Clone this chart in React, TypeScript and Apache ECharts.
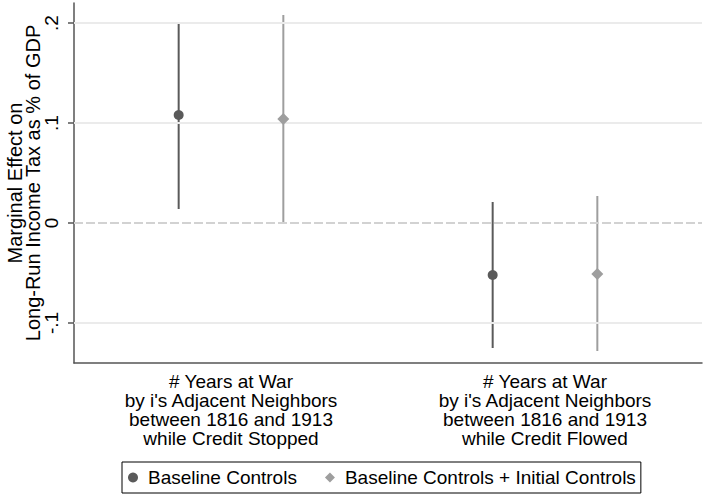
import React, { useEffect, useRef } from "react";
import * as echarts from "echarts";

// Regressor groups shown on the x axis
const categories = [
  "# Years at War\nby i's Adjacent Neighbors\nbetween 1816 and 1913\nwhile Credit Stopped",
  "# Years at War\nby i's Adjacent Neighbors\nbetween 1816 and 1913\nwhile Credit Flowed",
];

// Positions of the estimates on the underlying numeric axis (0..6)
const baselinePos = [1, 4];
const initialPos = [2, 5];

// Point estimates and 95% confidence bounds
const baselineEst = [0.108, -0.052];
const baselineLo = [0.014, -0.125];
const baselineHi = [0.201, 0.021];

const initialEst = [0.104, -0.051];
const initialLo = [0.0, -0.128];
const initialHi = [0.208, 0.027];

const yTicks = [-0.1, 0, 0.1, 0.2];
const seriesNames = ["Baseline Controls", "Baseline Controls + Initial Controls"];

const FONT = "'Liberation Sans', Arial, Helvetica, sans-serif";
const DARK = "#5a5a5a";
const LIGHT = "#9e9e9e";
const AXIS = "#555555";

function fmtTick(v: number): string {
  if (Math.abs(v) < 1e-9) return "0";
  const s = String(Math.round(v * 10) / 10);
  return s.replace("0.", ".");
}

function errorBars(pos: number[], lo: number[], hi: number[], color: string) {
  return {
    type: "custom",
    xAxisIndex: 1,
    yAxisIndex: 0,
    z: 3,
    silent: true,
    data: pos.map((p, i) => [p, lo[i], hi[i]]),
    renderItem: (_params: any, api: any) => {
      const a = api.coord([api.value(0), api.value(1)]);
      const b = api.coord([api.value(0), api.value(2)]);
      return {
        type: "line",
        shape: { x1: a[0], y1: a[1], x2: b[0], y2: b[1] },
        style: { stroke: color, lineWidth: 2 },
      };
    },
  };
}

export default function App() {
  const ref = useRef<HTMLDivElement>(null);

  useEffect(() => {
    if (!ref.current) return;
    const chart = echarts.init(ref.current, null, { renderer: "svg" });

    const gridLines = yTicks.map((t) =>
      t === 0
        ? { yAxis: t, lineStyle: { color: "#d2d2d2", width: 2, type: [9, 3] } }
        : { yAxis: t, lineStyle: { color: "#ebebeb", width: 2, type: "solid" } }
    );

    chart.setOption({
      animation: false,
      backgroundColor: "#ffffff",
      textStyle: { fontFamily: FONT },
      grid: {
        left: 74,
        right: 1,
        top: 3,
        bottom: 134,
        containLabel: false,
        outerBoundsMode: "none",
      },
      xAxis: [
        {
          type: "category",
          data: categories,
          boundaryGap: true,
          axisLine: { onZero: false, lineStyle: { color: AXIS, width: 1.5 } },
          axisTick: { alignWithLabel: true, length: 5, lineStyle: { color: AXIS, width: 1.5 } },
          axisLabel: {
            color: "#000000",
            fontSize: 19,
            lineHeight: 19,
            margin: 9,
            fontFamily: FONT,
            interval: 0,
          },
          splitLine: { show: false },
        },
        {
          type: "value",
          min: 0,
          max: 6,
          show: false,
          axisLine: { onZero: false },
        },
      ],
      yAxis: {
        type: "value",
        min: -0.14,
        max: 0.22,
        name: "Marginal Effect on\nLong-Run Income Tax as % of GDP",
        nameLocation: "middle",
        nameRotate: 90,
        nameGap: 32,
        nameMoveOverlap: false,
        nameTextStyle: { color: "#000000", fontSize: 20, lineHeight: 18, fontFamily: FONT },
        axisLine: { show: true, onZero: false, lineStyle: { color: AXIS, width: 1.5 } },
        axisTick: {
          show: true,
          length: 6,
          customValues: yTicks,
          lineStyle: { color: AXIS, width: 1.5 },
        },
        axisLabel: {
          customValues: yTicks,
          rotate: 90,
          margin: 13,
          color: "#000000",
          fontSize: 19,
          fontFamily: FONT,
          formatter: (v: number) => fmtTick(v),
        },
        splitLine: { show: false },
      },
      legend: {
        left: 122,
        top: 462,
        data: seriesNames,
        orient: "horizontal",
        itemWidth: 10,
        itemHeight: 10,
        itemGap: 28,
        padding: [6, 5, 6, 6],
        borderColor: "#000000",
        borderWidth: 1,
        borderRadius: 0,
        textStyle: { color: "#000000", fontSize: 19, fontFamily: FONT, padding: [0, 0, 0, 5] },
      },
      series: [
        {
          type: "scatter",
          name: "__grid",
          xAxisIndex: 1,
          yAxisIndex: 0,
          data: [],
          z: 1,
          silent: true,
          markLine: {
            silent: true,
            symbol: "none",
            label: { show: false },
            data: gridLines,
          },
        },
        errorBars(baselinePos, baselineLo, baselineHi, DARK),
        errorBars(initialPos, initialLo, initialHi, LIGHT),
        {
          type: "scatter",
          name: seriesNames[0],
          xAxisIndex: 1,
          yAxisIndex: 0,
          z: 5,
          symbol: "circle",
          symbolSize: 10,
          itemStyle: { color: DARK, opacity: 1 },
          data: baselinePos.map((p, i) => [p, baselineEst[i]]),
        },
        {
          type: "scatter",
          name: seriesNames[1],
          xAxisIndex: 1,
          yAxisIndex: 0,
          z: 5,
          symbol: "diamond",
          symbolSize: [12, 12],
          itemStyle: { color: LIGHT, opacity: 1 },
          data: initialPos.map((p, i) => [p, initialEst[i]]),
        },
      ],
    });

    return () => chart.dispose();
  }, []);

  return (
    <div
      ref={ref}
      style={{ position: "fixed", left: 0, top: 0, width: 703, height: 497, background: "#fff" }}
    />
  );
}
